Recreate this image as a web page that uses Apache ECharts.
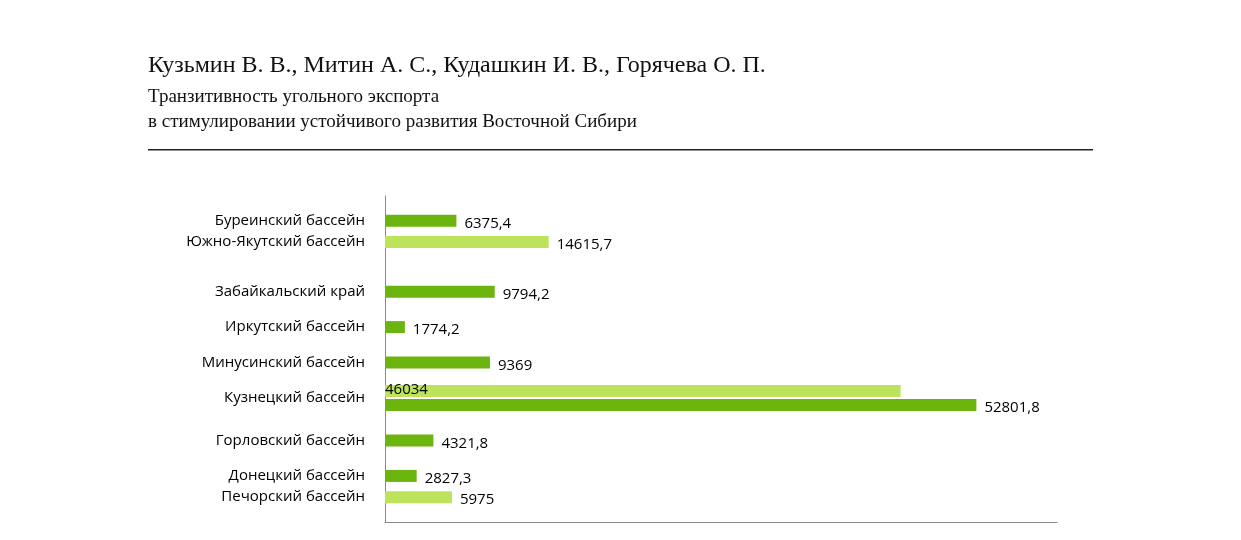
<!DOCTYPE html>
<html>
<head>
<meta charset="utf-8">
<script src="https://cdn.jsdelivr.net/npm/echarts@6/dist/echarts.min.js"></script>
<style>html,body{margin:0;background:#fff}#chart{width:1241px;height:540px}</style>
</head>
<body>
<div id="chart"></div>
<script>
// basins top to bottom, value and bar shade (dark / light)
var basins = ['Буреинский бассейн', 'Южно-Якутский бассейн', 'Забайкальский край', 'Иркутский бассейн',
  'Минусинский бассейн', 'Кузнецкий бассейн', 'Кузнецкий бассейн', 'Горловский бассейн', 'Донецкий бассейн', 'Печорский бассейн'];
var values = [6375.4, 14615.7, 9794.2, 1774.2, 9369, 46034, 52801.8, 4321.8, 2827.3, 5975];
var shade = ['dark', 'light', 'dark', 'dark', 'dark', 'light', 'dark', 'dark', 'dark', 'light'];
var showName = [true, true, true, true, true, false, false, true, true, true];
// row slot on the category axis (gives the uneven spacing)
var slots = [3, 6, 13, 18, 23, 27, 29, 34, 39, 42];
var slotCount = 46;
var kuznetsLabelSlot = 28;

var fmt = function (p) { return String(p.value).replace('.', ','); };
var lbl = { show: true, position: 'right', color: '#000', fontSize: 15, fontFamily: 'Open Sans', formatter: fmt, distance: 8, offset: [0, 3] };

var cats = [], dark = [], light = [];
for (var i = 0; i < slotCount; i++) { cats.push(''); dark.push(null); light.push(null); }
basins.forEach(function (b, i) {
  if (showName[i]) cats[slots[i]] = b;
  var item = values[i];
  if (i === 5) item = { value: values[i], label: { position: 'insideBottomLeft', offset: [0, 0], distance: 0 } };
  if (shade[i] === 'dark') dark[slots[i]] = item; else light[slots[i]] = item;
});
cats[kuznetsLabelSlot] = 'Кузнецкий бассейн';

var chart = echarts.init(document.getElementById('chart'));
chart.setOption({
  animation: false,
  graphic: [
    { type: 'text', left: 148, top: 54, style: { text: 'Кузьмин В. В., Митин А. С., Кудашкин И. В., Горячева О. П.', font: '24px "Liberation Serif"', fill: '#111' } },
    { type: 'text', left: 148, top: 88, style: { text: 'Транзитивность угольного экспорта', font: '19px "Liberation Serif"', fill: '#111' } },
    { type: 'text', left: 148, top: 113, style: { text: 'в стимулировании устойчивого развития Восточной Сибири', font: '19px "Liberation Serif"', fill: '#111' } },
    { type: 'rect', shape: { x: 148, y: 149, width: 945, height: 1.5 }, style: { fill: '#222' } }
  ],
  grid: { left: 385, right: 184, top: 196, bottom: 18 },
  xAxis: { type: 'value', min: 0, max: 60000, axisLabel: { show: false }, splitLine: { show: false },
    axisLine: { show: true, lineStyle: { color: '#888' } }, axisTick: { show: false } },
  yAxis: { type: 'category', inverse: true, data: cats,
    axisLine: { lineStyle: { color: '#888' } }, axisTick: { show: false },
    axisLabel: { interval: 0, color: '#000', fontSize: 15, fontFamily: 'Open Sans', margin: 20 } },
  series: [
    { type: 'bar', data: dark, barWidth: 12, barGap: '-100%', itemStyle: { color: '#6cb40e' }, label: lbl },
    { type: 'bar', data: light, barWidth: 12, itemStyle: { color: '#bde35b' }, label: lbl }
  ]
});
</script>
</body>
</html>
